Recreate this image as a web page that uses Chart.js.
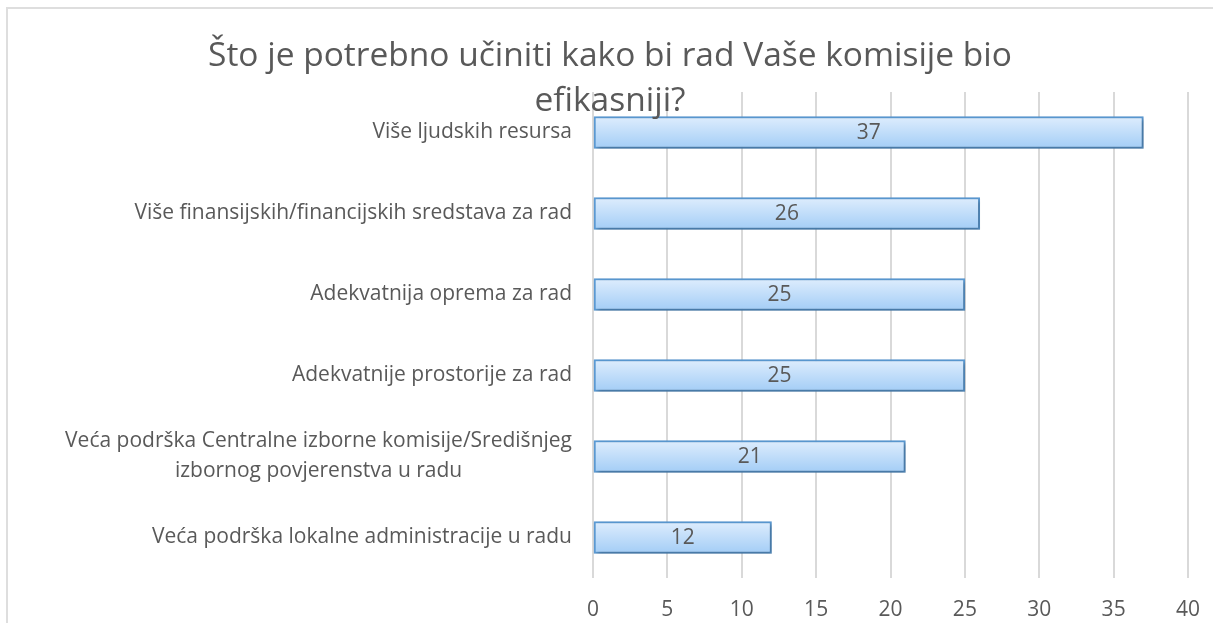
<!DOCTYPE html>
<html>
<head>
<meta charset="utf-8">
<script src="https://cdn.jsdelivr.net/npm/chart.js@4/dist/chart.umd.min.js"></script>
<style>
  html, body { margin: 0; padding: 0; background: #fff; overflow: hidden; }
  #frame { position: absolute; left: 6px; top: 7px; width: 1240px; height: 700px; border: 2px solid #dedede; }
  #chart { position: absolute; left: 0; top: 0; }
</style>
</head>
<body>
<div id="frame"></div>
<canvas id="chart" width="1213" height="623"></canvas>
<script>
const titleLines = ["Što je potrebno učiniti kako bi rad Vaše komisije bio", "efikasniji?"];
const categories = [
  ["Više ljudskih resursa"],
  ["Više finansijskih/financijskih sredstava za rad"],
  ["Adekvatnija oprema za rad"],
  ["Adekvatnije prostorije za rad"],
  ["Veća podrška Centralne izborne komisije/Središnjeg", "izbornog povjerenstva u radu"],
  ["Veća podrška lokalne administracije u radu"],
];
const values = [37, 26, 25, 25, 21, 12];
const xTicks = [0, 5, 10, 15, 20, 25, 30, 35, 40];

const textColor = "#595959";
const fontFamily = "'Open Sans', 'Liberation Sans', sans-serif";
const barThickness = 32;

function barGradient(c) {
  const chart = c.chart;
  const yScale = chart.scales.y;
  if (!yScale || c.dataIndex == null) return "#bcdcfa";
  const yc = yScale.getPixelForValue(c.dataIndex);
  if (!Number.isFinite(yc)) return "#bcdcfa";
  const g = chart.ctx.createLinearGradient(0, yc - barThickness / 2, 0, yc + barThickness / 2);
  g.addColorStop(0, "#deedfd");
  g.addColorStop(1, "#a3cdf6");
  return g;
}

const titlePlugin = {
  id: "twoLineTitle",
  afterDraw(chart) {
    const ctx = chart.ctx;
    ctx.save();
    ctx.fillStyle = textColor;
    ctx.font = `33.5px ${fontFamily}`;
    ctx.textAlign = "center";
    ctx.textBaseline = "middle";
    titleLines.forEach((line, i) => ctx.fillText(line, 610, 56 + i * 45));
    ctx.restore();
  },
};

const categoryLabels = {
  id: "categoryLabels",
  afterDraw(chart) {
    const ctx = chart.ctx;
    const yScale = chart.scales.y;
    ctx.save();
    ctx.fillStyle = textColor;
    ctx.font = `21px ${fontFamily}`;
    ctx.textBaseline = "middle";
    ctx.textAlign = "center";
    const right = chart.chartArea.left - 21;
    categories.forEach((lines, i) => {
      const yc = yScale.getPixelForValue(i);
      const w = Math.max(...lines.map((l) => ctx.measureText(l).width));
      const lh = 30;
      lines.forEach((l, j) => {
        ctx.fillText(l, right - w / 2, yc + (j - (lines.length - 1) / 2) * lh);
      });
    });
    ctx.restore();
  },
};

const valueLabels = {
  id: "valueLabels",
  afterDatasetsDraw(chart) {
    const ctx = chart.ctx;
    const meta = chart.getDatasetMeta(0);
    ctx.save();
    ctx.fillStyle = textColor;
    ctx.font = `21px ${fontFamily}`;
    ctx.textAlign = "center";
    ctx.textBaseline = "middle";
    meta.data.forEach((bar, i) => {
      ctx.fillText(String(values[i]), (bar.x + bar.base) / 2, bar.y + 1);
    });
    ctx.restore();
  },
};

const barShadow = {
  id: "barShadow",
  beforeDatasetsDraw(chart) {
    const ctx = chart.ctx;
    ctx.save();
    ctx.shadowColor = "rgba(0,0,0,0.28)";
    ctx.shadowBlur = 4;
    ctx.shadowOffsetX = 2;
    ctx.shadowOffsetY = 2;
  },
  afterDatasetsDraw(chart) {
    chart.ctx.restore();
  },
};

new Chart(document.getElementById("chart"), {
  type: "bar",
  data: {
    labels: categories,
    datasets: [{
      data: values,
      backgroundColor: barGradient,
      borderColor: "#5b9bd5",
      borderWidth: 2,
      borderSkipped: false,
      barThickness: barThickness,
    }],
  },
  options: {
    indexAxis: "y",
    responsive: false,
    animation: false,
    layout: { padding: { left: 593, right: 25, top: 92, bottom: 1 } },
    plugins: { legend: { display: false }, tooltip: { enabled: false }, title: { display: false } },
    scales: {
      x: {
        min: 0,
        max: 40,
        afterBuildTicks(axis) { axis.ticks = xTicks.map((v) => ({ value: v })); },
        afterFit(axis) {
          axis.height = 44;
          axis.paddingRight = 0;
          axis.paddingLeft = 0;
        },
        grid: { color: "#d9d9d9", lineWidth: 2, drawTicks: false },
        border: { display: false },
        ticks: { color: textColor, font: { family: fontFamily, size: 21 }, padding: 19 },
      },
      y: { display: false },
    },
  },
  plugins: [barShadow, valueLabels, categoryLabels, titlePlugin],
});
</script>
</body>
</html>
